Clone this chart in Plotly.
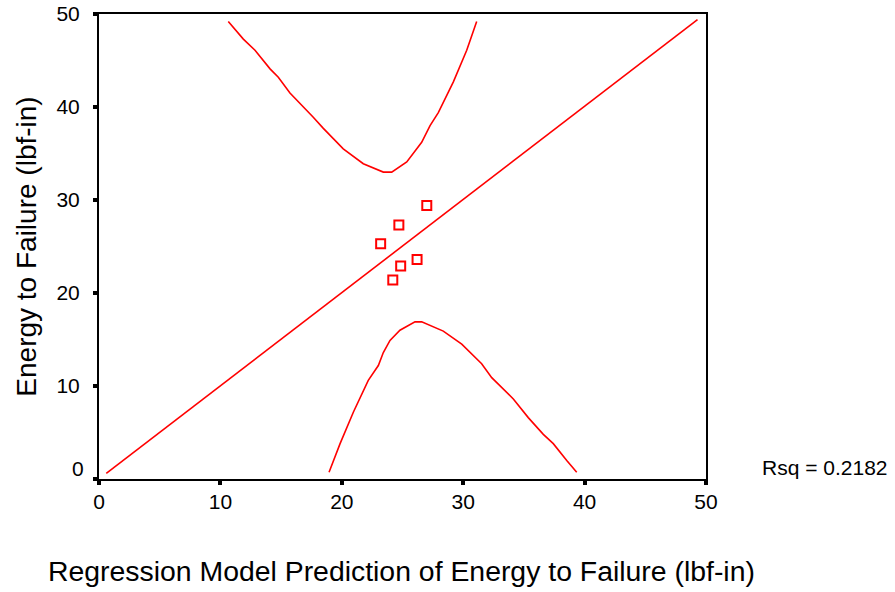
import plotly.graph_objects as go

# Observed points
pred_x = [27.0, 24.7, 23.2, 26.2, 24.85, 24.2]
energy_y = [29.4, 27.3, 25.3, 23.6, 22.9, 21.4]

# Identity / fit line
fit_x = [0.6, 49.3]
fit_y = [0.6, 49.4]

# Upper prediction band
upper_x = [10.65, 11.89, 12.85, 14.09, 14.77, 15.73, 17.65, 18.48, 20.12, 21.77,
           23.42, 24.11, 25.35, 26.58, 27.27, 27.95, 29.19, 30.29, 31.11]
upper_y = [49.2, 47.3, 46.1, 44.1, 43.2, 41.5, 38.9, 37.7, 35.5, 33.9,
           33.0, 33.0, 34.1, 36.2, 38.0, 39.4, 42.7, 46.1, 49.2]

# Lower prediction band
lower_x = [18.95, 19.85, 20.95, 22.18, 23.01, 23.42, 23.97, 24.79, 26.03, 26.58,
           28.36, 29.88, 31.52, 32.35, 34.13, 35.36, 36.6, 37.42, 38.53, 39.35]
lower_y = [0.73, 3.78, 7.18, 10.6, 12.2, 13.6, 14.9, 16.0, 16.9, 16.9,
           15.9, 14.5, 12.4, 10.9, 8.6, 6.6, 4.8, 3.8, 2.0, 0.73]

tick_vals = [0, 10, 20, 30, 40, 50]
x_tick_text = ["0", "10", "20", "30", "40", "50"]
y_tick_text = ["", "10", "20", "30", "40", "50"]  # "0" drawn separately (raised)

x_title = "Regression Model Prediction of Energy to Failure (lbf-in)"
y_title = "Energy to Failure (lbf-in)"
rsq_text = "Rsq = 0.2182"

RED = "#ff0000"
FONT = "Arial, Liberation Sans, sans-serif"
line_style = dict(color=RED, width=1.6)

fig = go.Figure()
fig.add_trace(go.Scatter(x=upper_x, y=upper_y, mode="lines", line=line_style, showlegend=False))
fig.add_trace(go.Scatter(x=lower_x, y=lower_y, mode="lines", line=line_style, showlegend=False))
fig.add_trace(go.Scatter(x=fit_x, y=fit_y, mode="lines", line=line_style, showlegend=False))
fig.add_trace(go.Scatter(x=pred_x, y=energy_y, mode="markers",
                         marker=dict(symbol="square-open", size=9, color=RED,
                                     line=dict(color=RED, width=2)),
                         showlegend=False))

axis_common = dict(
    range=[0, 50], showgrid=False, zeroline=False, automargin=False,
    showline=True, linecolor="black", linewidth=2, mirror=True,
    ticks="outside", ticklen=4, tickwidth=4, tickcolor="black",
    tickvals=tick_vals, ticklabeloverflow="allow",
    tickfont=dict(family=FONT, size=21, color="black"),
)

fig.update_layout(
    width=895, height=592,
    margin=dict(l=99, r=189, t=14, b=113),
    plot_bgcolor="white", paper_bgcolor="white",
    font=dict(family=FONT, color="black"),
    xaxis=dict(**axis_common, ticktext=x_tick_text, ticklabelstandoff=-1),
    yaxis=dict(**axis_common, ticktext=y_tick_text, ticklabelstandoff=9),
    annotations=[
        dict(text=x_title, xref="paper", yref="paper", x=0.499, y=-0.197,
             xanchor="center", yanchor="middle", showarrow=False,
             font=dict(size=28.4, color="black")),
        dict(text=y_title, xref="paper", yref="paper", x=-0.12, y=0.5,
             xanchor="center", yanchor="middle", textangle=-90, showarrow=False,
             font=dict(size=28, color="black")),
        dict(text=rsq_text, xref="paper", yref="paper", x=1.089, y=0.025,
             xanchor="left", yanchor="middle", showarrow=False,
             font=dict(size=21, color="black")),
        dict(text="0", xref="paper", yref="y", x=0, y=0, xshift=-13, yshift=10.5,
             xanchor="right", yanchor="middle", showarrow=False,
             font=dict(size=21, color="black")),
    ],
)

fig.write_html("out.html",
               config={"displayModeBar": False},
               post_script="document.body.style.margin='0';document.body.style.overflow='hidden';")
